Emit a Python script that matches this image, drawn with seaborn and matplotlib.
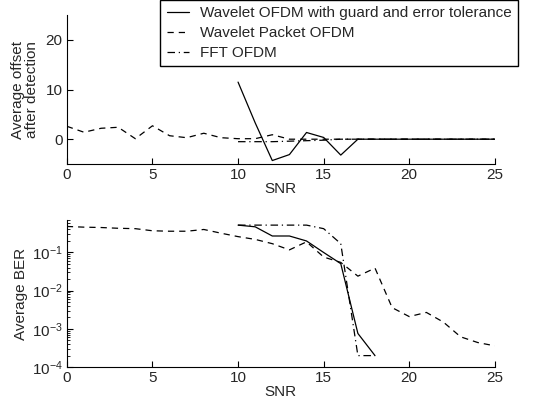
import numpy as np
import pandas as pd
import matplotlib
matplotlib.use("Agg")
import matplotlib.pyplot as plt
import seaborn as sns

# data
snr = list(range(0, 26))
snr_hi = list(range(10, 26))
snr_ber = list(range(10, 19))

offset_wavelet = [11.5, 3.3, -4.3, -3.1, 1.35, 0.35, -3.2, 0, 0, 0, 0, 0, 0, 0, 0, 0]
offset_packet = [2.6, 1.4, 2.2, 2.4, 0.1, 2.7, 0.7, 0.3, 1.2, 0.3, 0.1, 0.1, 0.9,
                 0, 0, 0, 0, 0, 0, 0, 0, 0, 0, 0, 0, 0]
offset_fft = [-0.5, -0.5, -0.5, -0.4, -0.3, -0.2, 0, 0, 0, 0, 0, 0, 0, 0, 0, 0]

ber_wavelet = [0.52, 0.47, 0.27, 0.27, 0.20, 0.10, 0.051, 0.00076, 0.0002]
ber_packet = [0.48, 0.46, 0.45, 0.43, 0.42, 0.37, 0.36, 0.36, 0.40, 0.32,
              0.26, 0.22, 0.17, 0.117, 0.19, 0.076, 0.055, 0.024, 0.039,
              0.0036, 0.0021, 0.0027, 0.0015, 0.00062, 0.00044, 0.00036]
ber_fft = [0.52, 0.52, 0.52, 0.52, 0.52, 0.42, 0.17, 0.0002, 0.0002]

labels = ['Wavelet OFDM with guard and error tolerance', 'Wavelet Packet OFDM', 'FFT OFDM']

sns.set_style("white")
plt.rcParams['font.family'] = ['Liberation Sans', 'DejaVu Sans']
plt.rcParams['xtick.direction'] = 'in'
plt.rcParams['ytick.direction'] = 'in'

fs = 11
fig = plt.figure(figsize=(5.48, 4.07), dpi=100)
ax1 = fig.add_axes([0.122, 0.597, 0.781, 0.366])
ax2 = fig.add_axes([0.122, 0.098, 0.781, 0.361])

lw = 0.9
sns.lineplot(x=snr_hi, y=offset_wavelet, ax=ax1, color='black', lw=lw, linestyle='-', label=labels[0])
sns.lineplot(x=snr, y=offset_packet, ax=ax1, color='black', lw=lw, linestyle=(0, (5, 4)), label=labels[1])
sns.lineplot(x=snr_hi, y=offset_fft, ax=ax1, color='black', lw=lw, linestyle=(0, (6, 3, 1, 3)), label=labels[2])

sns.lineplot(x=snr_ber, y=ber_wavelet, ax=ax2, color='black', lw=lw, linestyle='-')
sns.lineplot(x=snr, y=ber_packet, ax=ax2, color='black', lw=lw, linestyle=(0, (5, 4)))
sns.lineplot(x=snr_ber, y=ber_fft, ax=ax2, color='black', lw=lw, linestyle=(0, (6, 3, 1, 3)))

ax1.set_xlim(0, 25)
ax1.set_ylim(-5, 25)
ax1.set_yticks([0, 10, 20])
ax1.set_xticks([0, 5, 10, 15, 20, 25])
ax1.set_xlabel('SNR', fontsize=fs, labelpad=0)
ax1.set_ylabel('Average offset\nafter detection', fontsize=fs, labelpad=5, linespacing=1.0)

ax2.set_yscale('log')
ax2.set_xlim(0, 25)
ax2.set_ylim(1e-4, 0.7)
ax2.set_yticks([1e-4, 1e-3, 1e-2, 1e-1])
ax2.set_xticks([0, 5, 10, 15, 20, 25])
ax2.set_xlabel('SNR', fontsize=fs, labelpad=0)
ax2.set_ylabel('Average BER', fontsize=fs, labelpad=3)

for ax in (ax1, ax2):
    sns.despine(ax=ax)
    ax.spines['left'].set_color('black')
    ax.spines['bottom'].set_color('black')
    ax.spines['left'].set_linewidth(0.8)
    ax.spines['bottom'].set_linewidth(0.8)
    ax.tick_params(axis='both', which='major', labelsize=fs, length=4, width=0.8,
                   color='black', pad=3, bottom=True, left=True)
    ax.tick_params(axis='y', which='minor', length=2, width=0.6, color='black', left=True)
    ax.patch.set_alpha(0)

# legend box sticks out past the right edge of the axes, like the original
leg = ax1.legend(loc='upper right', bbox_to_anchor=(518 / 548, 1.0), bbox_transform=fig.transFigure,
                 fontsize=fs, frameon=True, fancybox=False, shadow=False,
                 handlelength=1.5, borderpad=0.4, labelspacing=0.4, borderaxespad=0, handletextpad=0.7)
leg.get_frame().set_edgecolor('black')
leg.get_frame().set_linewidth(1.0)
leg.get_frame().set_alpha(1)

fig.savefig('out.png', dpi=100)
